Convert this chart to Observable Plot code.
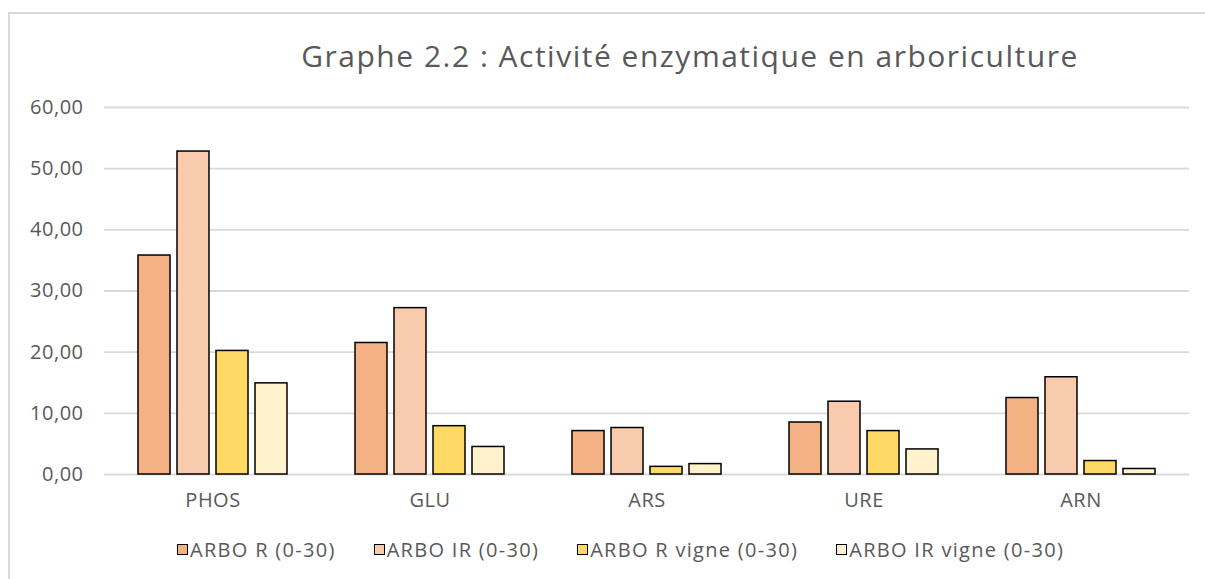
<!DOCTYPE html>
<html>
<head>
<meta charset="utf-8">
<script src="https://cdn.jsdelivr.net/npm/d3@7"></script>
<script src="https://cdn.jsdelivr.net/npm/@observablehq/plot@0.6"></script>
<style>
  html, body { margin: 0; padding: 0; width: 1205px; height: 579px; overflow: hidden; background: #fff; font-family: "Open Sans", sans-serif; }
  #frame { position: absolute; left: 8px; top: 12px; width: 2000px; height: 2000px; border-left: 2px solid #d9d9d9; border-top: 2px solid #d9d9d9; }
  #title { position: absolute; left: 690px; top: 38px; transform: translateX(-50%); white-space: nowrap; font-size: 30px; letter-spacing: 1.5px; line-height: 36px; color: #595959; }
  #chart { position: absolute; left: 0; top: 90px; }
  #legend { position: absolute; left: 177px; top: 536px; display: flex; gap: 38px; font-size: 20px; letter-spacing: 1.3px; color: #595959; white-space: nowrap; }
  .item { display: flex; align-items: center; gap: 2px; }
  .sw { width: 9px; height: 9px; border: 1.5px solid #000; }
</style>
</head>
<body>
<div id="frame"></div>
<div id="title">Graphe 2.2 : Activité enzymatique en arboriculture</div>
<div id="chart"></div>
<div id="legend"></div>
<script>
const categories = ["PHOS", "GLU", "ARS", "URE", "ARN"];
const seriesNames = ["ARBO R (0-30)", "ARBO IR (0-30)", "ARBO R vigne (0-30)", "ARBO IR vigne (0-30)"];
const seriesColors = ["#F4B183", "#F8CBAD", "#FFD966", "#FFF2CC"];
const arboR      = [35.8, 21.5, 7.1, 8.5, 12.5];
const arboIR     = [52.8, 27.2, 7.6, 11.9, 15.9];
const arboRVigne = [20.2, 7.9, 1.25, 7.1, 2.2];
const arboIRVigne= [14.9, 4.5, 1.7, 4.1, 0.9];
const yTicks = [0, 10, 20, 30, 40, 50, 60];

const seriesValues = [arboR, arboIR, arboRVigne, arboIRVigne];
const table = [];
categories.forEach((c, i) => {
  seriesNames.forEach((s, j) => table.push({cat: c, series: s, value: seriesValues[j][i]}));
});

const fmt = d => d.toFixed(2).replace(".", ",");

const chart = Plot.plot({
  width: 1205,
  height: 429,
  marginLeft: 104,
  marginRight: 16,
  marginTop: 17,
  marginBottom: 45,
  style: {fontFamily: "Open Sans, sans-serif", fontSize: "20px", color: "#595959", background: "transparent", letterSpacing: "0.5px"},
  fx: {domain: categories, padding: 0, label: null, axis: "bottom", tickSize: 0, tickPadding: 18},
  x: {domain: seriesNames, axis: null, paddingInner: 0.18, paddingOuter: 0.854},
  y: {domain: [0, 60], ticks: yTicks, tickFormat: fmt, tickSize: 0, tickPadding: 21, label: null, line: false},
  color: {domain: seriesNames, range: seriesColors},
  marks: [
    Plot.ruleY(yTicks, {stroke: "#d9d9d9", strokeWidth: 1.8}),
    Plot.barY(table, {fx: "cat", x: "series", y: "value", fill: "series", stroke: "#000", strokeWidth: 1.5})
  ]
});
document.getElementById("chart").appendChild(chart);

const legend = document.getElementById("legend");
seriesNames.forEach((s, j) => {
  const item = document.createElement("div");
  item.className = "item";
  const sw = document.createElement("div");
  sw.className = "sw";
  sw.style.background = seriesColors[j];
  const t = document.createElement("span");
  t.textContent = s;
  item.appendChild(sw);
  item.appendChild(t);
  legend.appendChild(item);
});
</script>
</body>
</html>
